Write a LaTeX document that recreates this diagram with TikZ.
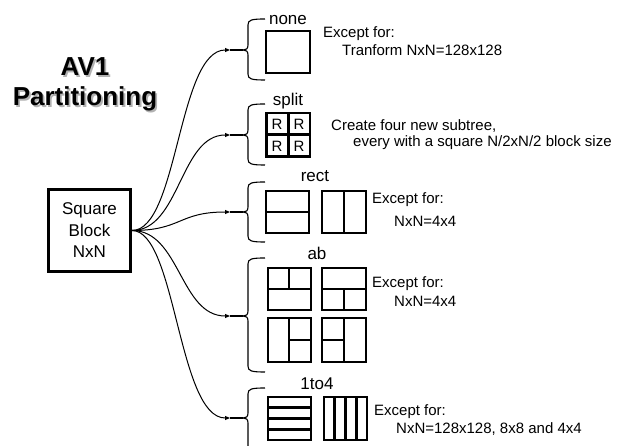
\documentclass[tikz,border=0pt]{standalone}
\usepackage{fontspec}
\setmainfont{Liberation Sans}
\usetikzlibrary{arrows.meta}
\newcommand\drawbrace[4]{%
 \draw[brc] (265,#2) .. controls (251,#2) and (248,#2+1) .. (248,#2+6) -- (248,#3-5) .. controls (248,#3-1) and (246,#3) .. (243,#3) coordinate (#1) .. controls (246,#3) and (248,#3+1) .. (248,#3+5) -- (248,#4-6) .. controls (248,#4-1) and (251,#4) .. (265,#4);}
\begin{document}
\begin{tikzpicture}[x=1pt,y=-1pt,
  frame/.style={draw,line width=2.7pt},
  desc/.style={anchor=base west,inner sep=0pt,font=\fontsize{15}{18}\selectfont},
  lab/.style={anchor=base,inner sep=0pt,font=\fontsize{17}{20}\selectfont},
  conn/.style={line width=1pt,-{Triangle[length=5pt,width=4pt]}},
  brc/.style={line width=1.1pt},
  link/.style={line width=1.1pt},
  ttl/.style={anchor=base,inner sep=0pt,font=\fontsize{26}{30}\selectfont\bfseries},
  rcell/.style={fill=white,inner sep=0pt,minimum width=19pt,minimum height=19pt,font=\fontsize{15}{16}\selectfont}]
\useasboundingbox (0,0) rectangle (625,446);
\clip (0,0) rectangle (625,446);
% title
\node[ttl,text=black!30] (t1s) at (86.8,77.8) {AV1};
\node[ttl] (t1) at (85,76) {AV1};
\node[ttl,text=black!30] (t2s) at (86.8,107.8) {Partitioning};
\node[ttl] (t2) at (85,106) {Partitioning};
% root block
\node[draw,line width=3pt,minimum width=82pt,minimum height=82pt,align=center,
      font=\fontsize{17}{21.5}\selectfont] (blk) at (89.5,230.5) {Square\\Block\\NxN};
% braces
\drawbrace{b1}{19}{50}{80}
\drawbrace{b2}{104}{135}{165}
\drawbrace{b3}{182}{212}{242}
\drawbrace{b4}{258}{316}{372}
\drawbrace{b5}{388}{418}{470}
% connectors
\coordinate (e1) at (230,50);
\coordinate (e2) at (230,135);
\coordinate (e3) at (230,212);
\coordinate (e4) at (230,316);
\coordinate (e5) at (230,418);
\draw[conn] (blk.east) .. controls (178,230.5) and (178,50) .. (e1);
\draw[conn] (blk.east) .. controls (180,230.5) and (180,135) .. (e2);
\draw[conn] (blk.east) .. controls (182,230.5) and (178,212) .. (e3);
\draw[conn] (blk.east) .. controls (180,230.5) and (180,316) .. (e4);
\draw[conn] (blk.east) .. controls (176,230.5) and (178,418) .. (e5);
\draw[link] (e1) -- (b1);
\draw[link] (e2) -- (b2);
\draw[link] (e3) -- (b3);
\draw[link] (e4) -- (b4);
\draw[link] (e5) -- (b5);
% none
\node[lab] (lnone) at (288,25) {none};
\draw[frame] (266,31) rectangle (310,73);
\node[desc] (d1a) at (323,37.5) {Except for:};
\node[desc] (d1b) at (342,56) {Tranform NxN=128x128};
% split
\node[lab] (lsplit) at (288,106) {split};
\fill (265,112) rectangle (311,158);
\node[rcell] (r1) at (277,124) {R};
\node[rcell] (r2) at (299,124) {R};
\node[rcell] (r3) at (277,146) {R};
\node[rcell] (r4) at (299,146) {R};
\node[desc] (d2a) at (331,131) {Create four new subtree,};
\node[desc] (d2b) at (353,147) {every with a square N/2xN/2 block size};
% rect
\node[lab] (lrect) at (315,182) {rect};
\draw[frame] (266,191) rectangle (309,233);
\draw[frame] (266,212) -- (309,212);
\draw[frame] (322,191) rectangle (366,233);
\draw[frame] (344,191) -- (344,233);
\node[desc] (d3a) at (372,204) {Except for:};
\node[desc] (d3b) at (394,227) {NxN=4x4};
% ab
\node[lab] (lab) at (317,260) {ab};
\draw[frame] (268,268) rectangle (311,310);
\draw[frame] (268,289) -- (311,289);
\draw[frame] (289,268) -- (289,289);
\draw[frame] (322,268) rectangle (366,310);
\draw[frame] (322,289) -- (366,289);
\draw[frame] (344,289) -- (344,310);
\draw[frame] (268,318) rectangle (311,362);
\draw[frame] (289,318) -- (289,362);
\draw[frame] (289,340) -- (311,340);
\draw[frame] (322,318) rectangle (366,362);
\draw[frame] (344,318) -- (344,362);
\draw[frame] (322,340) -- (344,340);
\node[desc] (d4a) at (372,288) {Except for:};
\node[desc] (d4b) at (394,307) {NxN=4x4};
% 1to4
\node[lab] (l14) at (317,390) {1to4};
\draw[frame] (268,397) rectangle (311,440);
\draw[frame] (268,407.75) -- (311,407.75);
\draw[frame] (268,418.5) -- (311,418.5);
\draw[frame] (268,429.25) -- (311,429.25);
\draw[frame] (324,397) rectangle (367,440);
\draw[frame] (334.75,397) -- (334.75,440);
\draw[frame] (345.5,397) -- (345.5,440);
\draw[frame] (356.25,397) -- (356.25,440);
\node[desc] (d5a) at (374,416) {Except for:};
\node[desc] (d5b) at (396,434) {NxN=128x128, 8x8 and 4x4};
\end{tikzpicture}
\end{document}
